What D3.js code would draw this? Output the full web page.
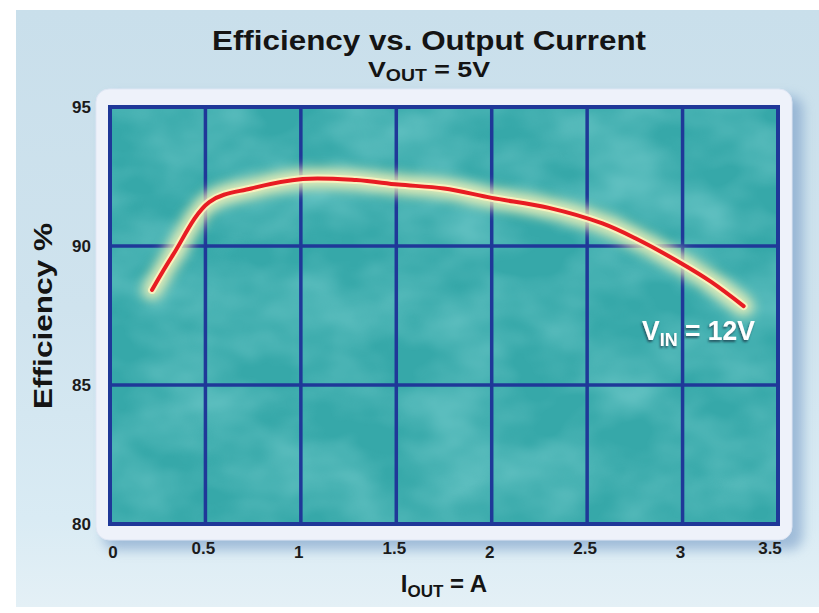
<!DOCTYPE html>
<html><head><meta charset="utf-8">
<script src="https://cdn.jsdelivr.net/npm/d3@7/dist/d3.min.js"></script>
<style>body{margin:0;background:#fff;} svg{display:block;}</style>
</head><body><svg id="c" width="819" height="613"></svg>
<script>
// ---- data ----
const current = [0.22, 0.33, 0.52, 0.74, 1.01, 1.29, 1.51, 1.75, 2.0, 2.3, 2.58, 2.76, 2.99, 3.15, 3.32];
const efficiency = [88.42, 89.68, 91.58, 92.07, 92.41, 92.37, 92.21, 92.07, 91.73, 91.37, 90.81, 90.25, 89.39, 88.71, 87.84];
const xTicks = [0, 0.5, 1, 1.5, 2, 2.5, 3, 3.5];
const xTickLabels = ["0", "0.5", "1", "1.5", "2", "2.5", "3", "3.5"];
const yTicks = [80, 85, 90, 95];
const yTickLabels = ["80", "85", "90", "95"];
const seriesLabel = {main: "V", sub: "IN", rest: " = 12V"};

// ---- layout ----
const W = 819, H = 613;
const P = {l: 110, r: 778, t: 107, b: 524};
const svg = d3.select("#c");
const defs = svg.append("defs");

const x = d3.scaleLinear().domain([0, 3.5]).range([P.l, P.r]);
const y = d3.scaleLinear().domain([80, 95]).range([P.b, P.t]);

// gradients & filters
const bg = defs.append("linearGradient").attr("id", "bg").attr("x1", 0).attr("y1", 0).attr("x2", 0).attr("y2", 1);
bg.append("stop").attr("offset", 0).attr("stop-color", "#c9dfeb");
bg.append("stop").attr("offset", 0.5).attr("stop-color", "#cfe3ee");
bg.append("stop").attr("offset", 0.85).attr("stop-color", "#d9ebf4");
bg.append("stop").attr("offset", 1).attr("stop-color", "#e4f0f6");

const blur6 = defs.append("filter").attr("id", "blur6").attr("x", "-20%").attr("y", "-20%").attr("width", "140%").attr("height", "140%");
blur6.append("feGaussianBlur").attr("stdDeviation", 6);

const glow = defs.append("filter").attr("id", "glow").attr("x", "-20%").attr("y", "-50%").attr("width", "140%").attr("height", "200%");
glow.append("feGaussianBlur").attr("stdDeviation", 6);

const tex = defs.append("filter").attr("id", "tex").attr("x", 0).attr("y", 0).attr("width", "100%").attr("height", "100%");
tex.append("feTurbulence").attr("type", "fractalNoise").attr("baseFrequency", "0.012 0.018").attr("numOctaves", 3).attr("seed", 7).attr("result", "n");
tex.append("feColorMatrix").attr("in", "n").attr("type", "matrix")
  .attr("values", "0 0 0 0 0.40  0 0 0 0 0.82  0 0 0 0 0.82  1.4 0 0 0 -0.45").attr("result", "c");
tex.append("feComposite").attr("in", "c").attr("in2", "SourceGraphic").attr("operator", "in");

const shadowTxt = defs.append("filter").attr("id", "tshadow").attr("x", "-10%").attr("y", "-30%").attr("width", "130%").attr("height", "160%");
shadowTxt.append("feDropShadow").attr("dx", -1).attr("dy", 2).attr("stdDeviation", 1.2).attr("flood-color", "#1e4a55").attr("flood-opacity", 0.85);

// background panel
svg.append("rect").attr("x", 0).attr("y", 0).attr("width", W).attr("height", H).attr("fill", "#ffffff");
svg.append("rect").attr("x", 16).attr("y", 10).attr("width", W - 16).attr("height", 597).attr("fill", "url(#bg)");

// frame shadow
svg.append("rect").attr("x", 103).attr("y", 96).attr("width", 700).attr("height", 454).attr("rx", 14)
  .attr("fill", "#6f95c2").attr("opacity", 0.55).attr("filter", "url(#blur6)");
// white frame
svg.append("rect").attr("x", 96).attr("y", 89).attr("width", 696).attr("height", 451).attr("rx", 13)
  .attr("fill", "#eef2fa").attr("stroke", "#dfe6f4").attr("stroke-width", 1);

// plot area
svg.append("rect").attr("x", P.l).attr("y", P.t).attr("width", P.r - P.l).attr("height", P.b - P.t).attr("fill", "#36a8a9");
svg.append("rect").attr("x", P.l).attr("y", P.t).attr("width", P.r - P.l).attr("height", P.b - P.t)
  .attr("fill", "#fff").attr("filter", "url(#tex)").attr("opacity", 0.5);

// grid
const gridColor = "#1f3898";
svg.append("g").selectAll("line").data(xTicks.slice(1, -1)).join("line")
  .attr("x1", d => x(d)).attr("x2", d => x(d)).attr("y1", P.t).attr("y2", P.b)
  .attr("stroke", gridColor).attr("stroke-width", 3.5);
svg.append("g").selectAll("line").data(yTicks.slice(1, -1)).join("line")
  .attr("y1", d => y(d)).attr("y2", d => y(d)).attr("x1", P.l).attr("x2", P.r)
  .attr("stroke", gridColor).attr("stroke-width", 3.5);
svg.append("rect").attr("x", P.l).attr("y", P.t).attr("width", P.r - P.l).attr("height", P.b - P.t)
  .attr("fill", "none").attr("stroke", gridColor).attr("stroke-width", 4);

// curve
const pts = current.map((c, i) => [c, efficiency[i]]);
const line = d3.line().x(d => x(d[0])).y(d => y(d[1])).curve(d3.curveCatmullRom.alpha(0.5));
svg.append("path").attr("d", line(pts)).attr("fill", "none").attr("stroke", "#fff7b8")
  .attr("stroke-width", 20).attr("stroke-linecap", "round").attr("opacity", 0.85).attr("filter", "url(#glow)");
svg.append("path").attr("d", line(pts)).attr("fill", "none").attr("stroke", "#fff4c0")
  .attr("stroke-width", 8).attr("stroke-linecap", "round").attr("opacity", 0.8);
svg.append("path").attr("d", line(pts)).attr("fill", "none").attr("stroke", "#e81c23")
  .attr("stroke-width", 4).attr("stroke-linecap", "round");

// series label
const lab = svg.append("text").attr("x", 642).attr("y", 340).attr("fill", "#ffffff")
  .attr("font-family", "'Liberation Sans Narrow', 'Liberation Sans', Arial, sans-serif")
  .attr("font-weight", "bold").attr("font-size", 28).attr("filter", "url(#tshadow)")
  .attr("textLength", 113).attr("lengthAdjust", "spacingAndGlyphs");
lab.append("tspan").text(seriesLabel.main);
lab.append("tspan").attr("font-size", 19).attr("dy", 6).text(seriesLabel.sub);
lab.append("tspan").attr("dy", -6).text(seriesLabel.rest);

// tick labels
const font = "'Liberation Sans', Arial, Helvetica, sans-serif";
svg.append("g").selectAll("text").data(yTicks).join("text")
  .attr("x", 91).attr("y", d => y(d) + 6).attr("text-anchor", "end")
  .attr("font-family", font).attr("font-weight", "bold").attr("font-size", 17).attr("fill", "#1b1b1b")
  .text((d, i) => yTickLabels[i]);
svg.append("g").selectAll("text").data(xTicks).join("text")
  .attr("x", (d, i) => i === 0 ? x(d) + 3 : (i === xTicks.length - 1 ? x(d) - 8 : x(d) - 2))
  .attr("y", (d, i) => (i % 2 === 0 ? 558 : 554))
  .attr("text-anchor", "middle")
  .attr("font-family", font).attr("font-weight", "bold").attr("font-size", 17).attr("fill", "#1b1b1b")
  .text((d, i) => xTickLabels[i]);

// titles
svg.append("text").attr("x", 429).attr("y", 50).attr("text-anchor", "middle")
  .attr("font-family", font).attr("font-weight", "bold").attr("font-size", 28).attr("fill", "#141414")
  .attr("textLength", 434).attr("lengthAdjust", "spacingAndGlyphs")
  .text("Efficiency vs. Output Current");
const sub = svg.append("text").attr("x", 429).attr("y", 77).attr("text-anchor", "middle")
  .attr("font-family", font).attr("font-weight", "bold").attr("font-size", 22).attr("fill", "#141414")
  .attr("textLength", 122).attr("lengthAdjust", "spacingAndGlyphs");
sub.append("tspan").text("V");
sub.append("tspan").attr("font-size", 16).attr("dy", 4).text("OUT");
sub.append("tspan").attr("dy", -4).text(" = 5V");

const xt = svg.append("text").attr("x", 444).attr("y", 592).attr("text-anchor", "middle")
  .attr("font-family", font).attr("font-weight", "bold").attr("font-size", 24).attr("fill", "#141414");
xt.append("tspan").text("I");
xt.append("tspan").attr("font-size", 17).attr("dy", 5).text("OUT");
xt.append("tspan").attr("dy", -5).text(" = A");

svg.append("text").attr("transform", "translate(52,316) rotate(-90)").attr("text-anchor", "middle")
  .attr("font-family", font).attr("font-weight", "bold").attr("font-size", 26).attr("fill", "#141414")
  .attr("textLength", 186).attr("lengthAdjust", "spacingAndGlyphs")
  .text("Efficiency %");
</script></body></html>
